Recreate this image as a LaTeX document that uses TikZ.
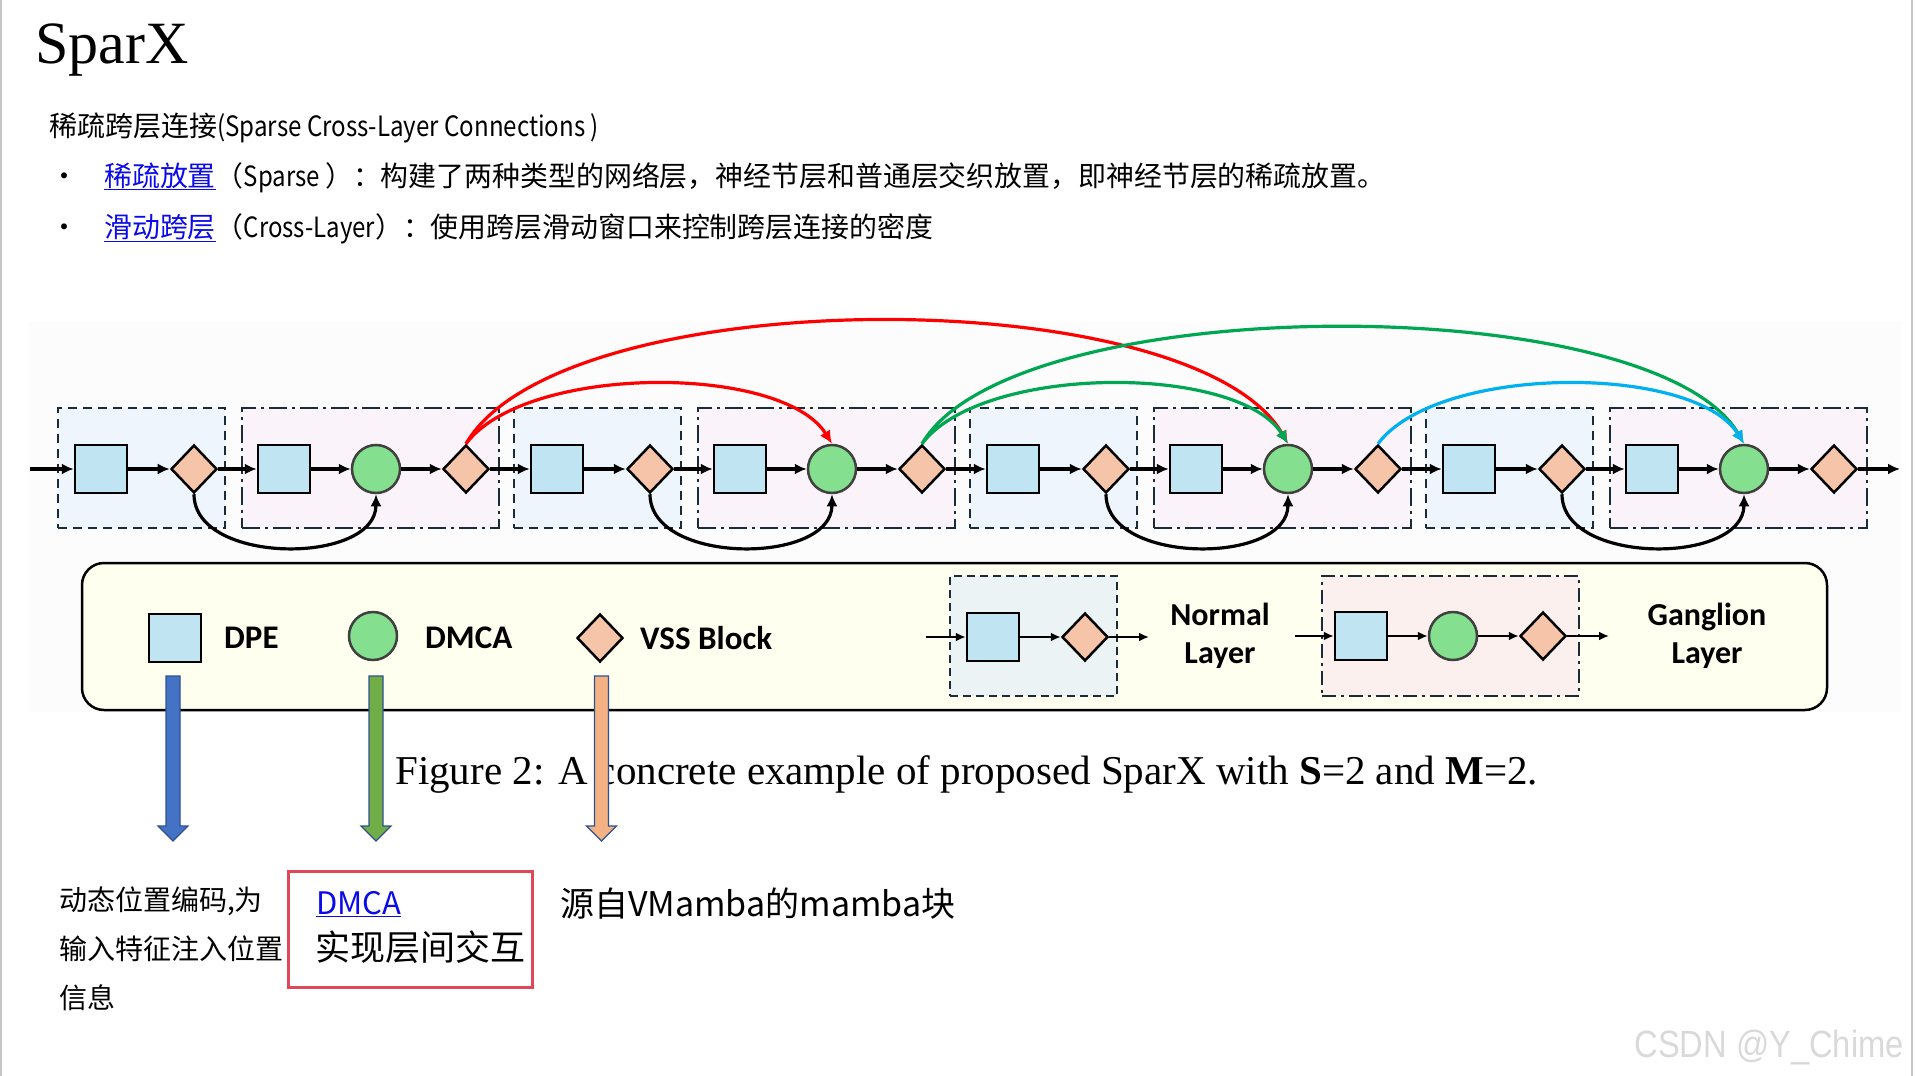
\documentclass[tikz,border=0pt]{standalone}
\usepackage{fontspec}
\setmainfont{Liberation Serif}
\newfontfamily\cjkfont{Noto Sans CJK SC}
\newfontfamily\lgdfont{Carlito}
\newfontfamily\wmfont{Liberation Sans}
\usetikzlibrary{shapes.geometric, arrows.meta, positioning, calc}

\definecolor{dpefill}{RGB}{192,228,242}
\definecolor{dmcafill}{RGB}{132,224,143}
\definecolor{dmcaline}{RGB}{64,64,64}
\definecolor{vssfill}{RGB}{246,196,168}
\definecolor{nlfill}{RGB}{239,245,252}
\definecolor{glfill}{RGB}{250,243,250}
\definecolor{boxline}{RGB}{26,43,58}
\definecolor{lgdfill}{RGB}{255,255,240}
\definecolor{mininfill}{RGB}{236,243,245}
\definecolor{minigfill}{RGB}{251,240,238}
\definecolor{crossred}{RGB}{255,0,0}
\definecolor{crossgreen}{RGB}{0,166,81}
\definecolor{crosscyan}{RGB}{0,176,240}
\definecolor{blkblue}{RGB}{68,114,196}
\definecolor{blkgreen}{RGB}{112,173,71}
\definecolor{blkorange}{RGB}{244,177,131}
\definecolor{blkline}{RGB}{47,82,143}
\definecolor{linkblue}{RGB}{10,10,235}
\definecolor{frame}{RGB}{224,72,90}
\definecolor{figbg}{RGB}{252,252,252}

\newcommand{\lnk}[1]{\textcolor{linkblue}{\underline{#1}}}
\newcommand{\nar}[1]{\scalebox{0.86}[1]{#1}}
% fat arrow from #1 down to #2, filled with #3
\newcommand{\blockarrow}[3]{%
  \draw[line width=1.2pt, draw=blkline, fill=#3]
    ($(#1)+(-7,0)$) -- ($(#1)+(7,0)$) -- ($(#2)+(7,-15)$) -- ($(#2)+(15,-15)$) -- (#2)
    -- ($(#2)+(-15,-15)$) -- ($(#2)+(-7,-15)$) -- cycle;
}

\tikzset{
    shape_dpe/.style={
        rectangle, draw=black, line width=2.5pt, fill=dpefill,
        minimum width=52pt, minimum height=48pt, inner sep=0pt
    },
    shape_dmca/.style={
        circle, draw=dmcaline, line width=2.5pt, fill=dmcafill,
        minimum size=48pt, inner sep=0pt
    },
    shape_vss/.style={
        diamond, draw=black, line width=2.5pt, fill=vssfill,
        minimum width=46pt, minimum height=48pt, inner sep=0pt
    },
    layer_normal/.style={
        rectangle, draw=boxline, line width=2.5pt, dash pattern=on 9pt off 6pt,
        fill=nlfill, minimum width=167pt, minimum height=120pt
    },
    layer_ganglion/.style={
        rectangle, draw=boxline, line width=2.5pt, dash pattern=on 18pt off 5pt on 3pt off 5pt,
        fill=glfill, minimum width=257pt, minimum height=120pt
    },
    flow_arrow/.style={
        -{Latex[length=12pt,width=11pt]}, line width=3.2pt
    },
    mini_arrow/.style={
        -{Latex[length=10pt,width=9pt]}, line width=2.5pt
    },
    cross_arrow/.style={
        -{Latex[length=13pt,width=12pt]}, line width=3.2pt, draw=#1
    },
    txt/.style={inner sep=0pt, anchor=base west},
    lgd_lbl/.style={inner sep=0pt, font=\lgdfont\bfseries\fontsize{33}{33}\selectfont}
}

\begin{document}
\begin{tikzpicture}[x=1pt, y=-1pt]
    \useasboundingbox (0,0) rectangle (1915,1076);
    \draw[gray!45, line width=1.5pt] (1,0) -- (1,1076);
    \draw[gray!45, line width=1.5pt] (1912,0) -- (1912,1076);
    \fill[figbg] (29,322) rectangle (1902,712);

    % heading texts
    \node[txt, font=\fontsize{60}{70}\selectfont] (title) at (35,63) {SparX};
    \node[txt, font=\cjkfont\fontsize{28}{34}\selectfont] (heading) at (49,136) {稀疏跨层连接\nar{(Sparse Cross-Layer Connections )}};
    \node[txt, font=\cjkfont\fontsize{28}{34}\selectfont] (dot1) at (50,186) {•};
    \node[txt, font=\cjkfont\fontsize{27.9}{34}\selectfont] (item1) at (104,186) {\lnk{稀疏放置}（\nar{Sparse }）：构建了两种类型的网络层，神经节层和普通层交织放置，即神经节层的稀疏放置。};
    \node[txt, font=\cjkfont\fontsize{28}{34}\selectfont] (dot2) at (50,237) {•};
    \node[txt, font=\cjkfont\fontsize{27.9}{34}\selectfont] (item2) at (104,237) {\lnk{滑动跨层}（\nar{Cross-Layer}）：使用跨层滑动窗口来控制跨层连接的密度};

    % the row of layers
    \foreach \k in {0,...,3}{
        \pgfmathsetmacro{\ns}{58+456*\k}
        \pgfmathsetmacro{\gs}{242+456*\k}
        \node[layer_normal] (nl\k) at (\ns+83.5,468) {};
        \node[layer_ganglion] (gl\k) at (\gs+128.5,468) {};
        \node[shape_dpe] (nsq\k) at (\ns+43,469) {};
        \node[shape_vss] (nvss\k) at (\ns+136,469) {};
        \node[shape_dpe] (gsq\k) at (\gs+42,469) {};
        \node[shape_dmca] (gdmca\k) at (\gs+134,469) {};
        \node[shape_vss] (gvss\k) at (\gs+224,469) {};
    }
    \coordinate (row_in) at (30,469);
    \coordinate (row_out) at (1900,469);

    \draw[flow_arrow] (row_in) -- (nsq0);
    \foreach \k in {0,...,3}{
        \draw[flow_arrow] (nsq\k) -- (nvss\k);
        \draw[flow_arrow] (nvss\k) -- (gsq\k);
        \draw[flow_arrow] (gsq\k) -- (gdmca\k);
        \draw[flow_arrow] (gdmca\k) -- (gvss\k);
        \draw[flow_arrow] (nvss\k.south) to[out=-90, in=-90] (gdmca\k.south);
    }
    \foreach \k [evaluate=\k as \j using int(\k+1)] in {0,1,2}{
        \draw[flow_arrow] (gvss\k) -- (nsq\j);
    }
    \draw[flow_arrow] (gvss3) -- (row_out);

    % cross-layer links
    \draw[cross_arrow=crossred] (gvss0.north) .. controls +(60,-80) and +(-50,-80) .. (gdmca1.north);
    \draw[cross_arrow=crossred] (gvss0.north) .. controls +(95,-164) and +(-95,-164) .. (gdmca2.north);
    \draw[cross_arrow=crossgreen] (gvss1.north) .. controls +(60,-80) and +(-50,-80) .. (gdmca2.north);
    \draw[cross_arrow=crossgreen] (gvss1.north) .. controls +(90,-155) and +(-90,-155) .. (gdmca3.north);
    \draw[cross_arrow=crosscyan] (gvss2.north) .. controls +(60,-80) and +(-50,-80) .. (gdmca3.north);

    % legend
    \node[draw=black, line width=2.5pt, fill=lgdfill, rounded corners=22pt,
          minimum width=1745pt, minimum height=147pt] (legend) at (954.5,636.5) {};
    \node[shape_dpe] (lgd_dpe) at (175,638) {};
    \node[lgd_lbl, anchor=west] (lgd_dpe_txt) at (224,638) {DPE};
    \node[shape_dmca] (lgd_dmca) at (373,636) {};
    \node[lgd_lbl, anchor=west] (lgd_dmca_txt) at (425,638) {DMCA};
    \node[shape_vss] (lgd_vss) at (600,638) {};
    \node[lgd_lbl, anchor=west] (lgd_vss_txt) at (640,638) {VSS Block};

    \node[layer_normal, line width=2pt, dash pattern=on 8pt off 5pt, fill=mininfill] (lgd_nl) at (1033.5,636) {};
    \node[shape_dpe] (lgd_nsq) at (993,637) {};
    \node[shape_vss] (lgd_nvss) at (1085,637) {};
    \coordinate (lgd_nin) at (926,637);
    \coordinate (lgd_nout) at (1149,637);
    \draw[mini_arrow] (lgd_nin) -- (lgd_nsq);
    \draw[mini_arrow] (lgd_nsq) -- (lgd_nvss);
    \draw[mini_arrow] (lgd_nvss) -- (lgd_nout);
    \node[lgd_lbl, align=center, font=\lgdfont\bfseries\fontsize{32}{38}\selectfont] (lgd_nl_txt) at (1220,636) {Normal\\Layer};

    \node[layer_ganglion, line width=2pt, dash pattern=on 14pt off 5pt on 3pt off 5pt, fill=minigfill] (lgd_gl) at (1450,636) {};
    \node[shape_dpe] (lgd_gsq) at (1361,636) {};
    \node[shape_dmca] (lgd_gdmca) at (1453,636) {};
    \node[shape_vss] (lgd_gvss) at (1543,636) {};
    \coordinate (lgd_gin) at (1295,636);
    \coordinate (lgd_gout) at (1609,636);
    \draw[mini_arrow] (lgd_gin) -- (lgd_gsq);
    \draw[mini_arrow] (lgd_gsq) -- (lgd_gdmca);
    \draw[mini_arrow] (lgd_gdmca) -- (lgd_gvss);
    \draw[mini_arrow] (lgd_gvss) -- (lgd_gout);
    \node[lgd_lbl, align=center, font=\lgdfont\bfseries\fontsize{32}{38}\selectfont] (lgd_gl_txt) at (1707,636) {Ganglion\\Layer};

    % caption
    \node[txt, font=\fontsize{41}{48}\selectfont] (caption) at (395,784) {Figure 2: A concrete example of proposed SparX with \textbf{S}=2 and \textbf{M}=2.};

    % notes below
    \coordinate (dpe_from) at (173,676);
    \coordinate (dpe_to) at (173,841);
    \coordinate (dmca_from) at (376,676);
    \coordinate (dmca_to) at (376,841);
    \coordinate (vss_from) at (601.5,676);
    \coordinate (vss_to) at (601.5,841);
    \blockarrow{dpe_from}{dpe_to}{blkblue}
    \blockarrow{dmca_from}{dmca_to}{blkgreen}
    \blockarrow{vss_from}{vss_to}{blkorange}

    \node[txt, font=\cjkfont\fontsize{28}{34}\selectfont] (dpe_note1) at (59,910) {动态位置编码,为};
    \node[txt, font=\cjkfont\fontsize{28}{34}\selectfont] (dpe_note2) at (59,959) {输入特征注入位置};
    \node[txt, font=\cjkfont\fontsize{28}{34}\selectfont] (dpe_note3) at (59,1008) {信息};

    \node[draw=frame, line width=3pt, minimum width=244pt, minimum height=116pt] (dmca_frame) at (410.5,929) {};
    \node[txt, font=\cjkfont\fontsize{31}{36}\selectfont] (dmca_link) at (316,914) {\lnk{DMCA}};
    \node[txt, font=\cjkfont\fontsize{35}{40}\selectfont] (dmca_note) at (315,960) {实现层间交互};

    \node[txt, font=\cjkfont\fontsize{34}{40}\selectfont] (vss_note) at (560,916) {源自VMamba的mamba块};

    \node[inner sep=0pt, anchor=base east, text=gray!30, font=\wmfont\fontsize{38}{44}\selectfont] (mark) at (1904,1057) {\scalebox{0.86}[1]{CSDN @Y\_Chime}};
\end{tikzpicture}
\end{document}
